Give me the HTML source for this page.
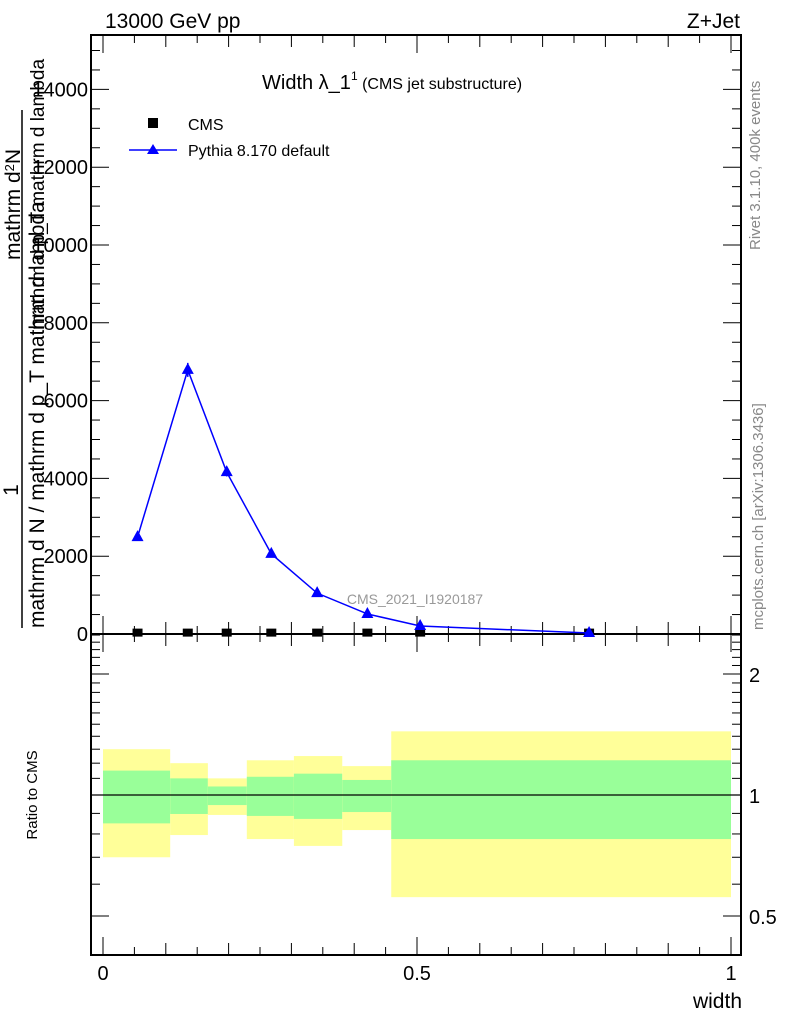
<!DOCTYPE html>
<html><head><meta charset="utf-8"><style>
body{margin:0;background:#fff}
svg text{font-family:"Liberation Sans",sans-serif}
</style></head><body>
<svg id="c" width="786" height="1024" xmlns="http://www.w3.org/2000/svg">
<text x="105" y="28" font-size="21">13000 GeV pp</text>
<text x="740" y="28" font-size="21" text-anchor="end">Z+Jet</text>
<text x="262" y="89" font-size="20">Width λ_1<tspan font-size="12" dy="-9">1</tspan><tspan font-size="16" dy="9"> (CMS jet substructure)</tspan></text>
<text x="415" y="604" font-size="14" fill="#999" text-anchor="middle">CMS_2021_I1920187</text>
<text transform="translate(760,250) rotate(-90)" font-size="15" fill="#888">Rivet 3.1.10,  400k events</text>
<text transform="translate(763,630) rotate(-90)" font-size="15" fill="#888">mcplots.cern.ch [arXiv:1306.3436]</text>
<g font-size="21">
<text transform="translate(18,490) rotate(-90)" text-anchor="middle">1</text>
<line x1="22" y1="628" x2="22" y2="110" stroke="#000" stroke-width="1.5"/>
<text transform="translate(44,628) rotate(-90)">mathrm d N / mathrm d p_T mathrm d lambda</text>
<text transform="translate(20,260) rotate(-90)">mathrm d<tspan font-size="13" dy="-6">2</tspan><tspan dy="6">N</tspan></text>
<text transform="translate(44,330) rotate(-90)" font-size="19">mathrm d p_T mathrm d lambda</text>
</g>
<text x="742" y="1008" font-size="21" text-anchor="end">width</text>
<text transform="translate(37,795) rotate(-90)" font-size="15" text-anchor="middle">Ratio to CMS</text>
<g id="legend">
<rect x="148" y="118" width="10" height="10" fill="#000"/>
<text x="188" y="130" font-size="16">CMS</text>
<line x1="129" y1="150" x2="177" y2="150" stroke="#00f" stroke-width="1.5"/>
<polygon points="153,144 147,154 159,154" fill="#00f"/>
<text x="188" y="156" font-size="16">Pythia 8.170 default</text>
</g>
<g id="g"></g>
</svg>
<script>
const xEdges=[0,0.107,0.167,0.229,0.304,0.381,0.459,1.0];
const xPoints=[0.055,0.135,0.197,0.268,0.341,0.421,0.505,0.774];
const pythiaVals=[2490,6790,4160,2060,1050,515,205,25];
const pythiaErr=[40,180,110,40,20,10,5,2];
const cmsVals=[10,10,10,10,10,10,10,10];
const yellowHi=[1.30,1.20,1.10,1.22,1.25,1.18,1.44];
const yellowLo=[0.70,0.795,0.892,0.777,0.747,0.818,0.557];
const greenHi=[1.15,1.10,1.05,1.11,1.13,1.09,1.22];
const greenLo=[0.85,0.897,0.944,0.887,0.872,0.907,0.777];
const yTicks=[0,2000,4000,6000,8000,10000,12000,14000];
const rTicks=[0.5,1,2];
const xTicks=[0,0.5,1];
const xTickLabels=["0","0.5","1"];

const L=91,R=741,T=35,M=634,B=955;
const X=v=>103+v*628;
const Y=v=>634-v*0.0389;
const RY=r=>795-Math.log2(r)*121;
const g=document.getElementById('g');
const NS='http://www.w3.org/2000/svg';
function el(t,a,p){const e=document.createElementNS(NS,t);for(const k in a)e.setAttribute(k,a[k]);(p||g).appendChild(e);return e;}

// ratio bands
for(let i=0;i<yellowHi.length;i++){
 const x0=X(xEdges[i]),x1=X(xEdges[i+1]);
 const y=el('rect',{x:x0,y:RY(yellowHi[i]),width:x1-x0,height:RY(yellowLo[i])-RY(yellowHi[i]),fill:'#ffff99'});
 
 
 const gr=el('rect',{x:x0,y:RY(greenHi[i]),width:x1-x0,height:RY(greenLo[i])-RY(greenHi[i]),fill:'#99ff99'});
 
 
}
const one=el('line',{x1:L,x2:R,y1:RY(1),y2:RY(1),stroke:'#000','stroke-width':1.2});



// frames
const f1=el('rect',{x:L,y:T,width:R-L,height:M-T,fill:'none',stroke:'#000','stroke-width':2});


const f2=el('rect',{x:L,y:M,width:R-L,height:B-M,fill:'none',stroke:'#000','stroke-width':2});



// main y ticks
for(let v=0;v<=15000;v+=500){const y=Y(v);const len=v%2000==0?18:9;
 el('line',{x1:L,x2:L+len,y1:y,y2:y,stroke:'#000'});el('line',{x1:R,x2:R-len,y1:y,y2:y,stroke:'#000'});}
yTicks.forEach(v=>{const t=el('text',{x:L-3,y:Y(v)+7,'font-size':20,'text-anchor':'end'});t.textContent=v;
 });
// ratio y ticks
const minor=[0.4,0.5,0.6,0.7,0.8,0.9,1,1.1,1.2,1.3,1.4,1.5,1.6,1.7,1.8,1.9,2,2.1,2.2,2.3,2.4,2.5];
minor.forEach(r=>{const y=RY(r);if(y<M||y>B)return;const len=rTicks.includes(r)?18:9;
 el('line',{x1:L,x2:L+len,y1:y,y2:y,stroke:'#000'});el('line',{x1:R,x2:R-len,y1:y,y2:y,stroke:'#000'});});
rTicks.forEach(r=>{const t=el('text',{x:R+8,y:RY(r)+8,'font-size':20});t.textContent=r;
 });
// x ticks
for(let i=0;i<=20;i++){const v=i*0.05,x=X(v);const len=i%10==0?18:(i%2==0?12:8);
 el('line',{x1:x,x2:x,y1:M,y2:M-len,stroke:'#000'});el('line',{x1:x,x2:x,y1:T,y2:T+len,stroke:'#000'});
 el('line',{x1:x,x2:x,y1:B,y2:B-len,stroke:'#000'});el('line',{x1:x,x2:x,y1:M,y2:M+len,stroke:'#000'});}
xTicks.forEach((v,i)=>{const t=el('text',{x:X(v),y:980,'font-size':20,'text-anchor':'middle'});t.textContent=xTickLabels[i];
 });

// CMS points
xPoints.forEach((v,i)=>{const r=el('rect',{x:X(v)-5,y:Y(cmsVals[i])-5,width:10,height:8,fill:'#000'});
 });
// Pythia
const pl=el('polyline',{points:xPoints.map((v,i)=>X(v)+','+Y(pythiaVals[i])).join(' '),fill:'none',stroke:'#00f','stroke-width':1.5});

xPoints.forEach((v,i)=>{const x=X(v),y=Y(pythiaVals[i]);
 el('line',{x1:x,x2:x,y1:Y(pythiaVals[i]+pythiaErr[i]),y2:Y(pythiaVals[i]-pythiaErr[i]),stroke:'#00f','stroke-width':1.5});
 const p=el('polygon',{points:`${x},${y-7} ${x-6},${y+4} ${x+6},${y+4}`,fill:'#00f'});
 });
</script>
</body></html>
